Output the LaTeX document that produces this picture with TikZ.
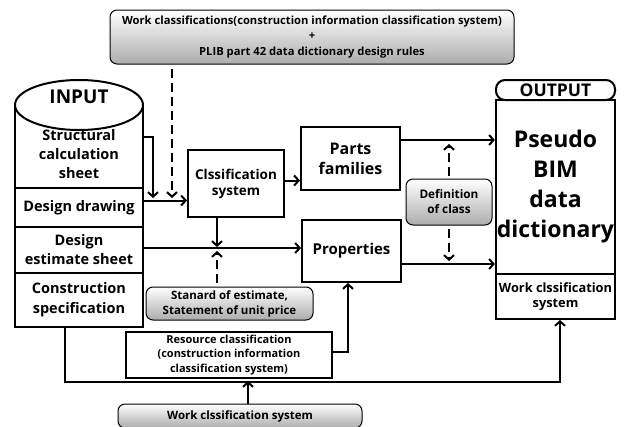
\documentclass[tikz,border=0pt]{standalone}
\usepackage{fontspec}
\setmainfont{Open Sans}
\usetikzlibrary{arrows.meta}

\newcommand{\fsz}[2]{\bfseries\fontsize{#1}{#2}\selectfont}

\tikzset{
  box/.style={draw, line width=2pt, fill=white, align=center, inner sep=1pt},
  sect/.style={box, minimum width=128pt},
  graybox/.style={draw, line width=1pt, rounded corners=7pt, top color=white,
    bottom color=gray!65, align=center, inner sep=1pt},
  arr/.style={line width=2pt, -{Straight Barb[length=4.5pt,width=10pt]}},
  dasharr/.style={arr, dash pattern=on 9pt off 5pt},
}

\begin{document}
\begin{tikzpicture}[x=1pt, y=-1pt]
        \useasboundingbox (0,0) rectangle (626,426);

        % Rules on top
        \node[graybox, minimum width=404pt, minimum height=54pt, font=\fsz{11.2}{15.5}] (rules) at (312,37)
            {Work classifications(construction information classification system)\\+\\PLIB part 42 data dictionary design rules};

        % Input cylinder
        \draw[line width=2pt] (15,105) -- (15,327) -- (143,327) -- (143,105);
        \node[sect, draw=none, fill=none, minimum height=58pt, font=\fsz{14.5}{19}] (struct) at (79,154)
            {Structural\\calculation\\sheet};
        \node[sect, minimum height=39pt, font=\fsz{14.5}{19}] (drawing) at (79,207.5) {Design drawing};
        \node[sect, minimum height=46pt, font=\fsz{14.5}{19}] (estimate) at (79,250) {Design\\estimate sheet};
        \node[sect, minimum height=54pt, font=\fsz{14.5}{20}] (spec) at (79,300) {Construction\\specification};
        \draw[line width=2pt, fill=white] (79,105) ellipse [x radius=64pt, y radius=25pt];
        \node[font=\fsz{19}{22}] (input) at (79,97) {INPUT};

        % Middle boxes
        \node[box, minimum width=96pt, minimum height=67pt, font=\fsz{13.5}{16}] (clsys) at (236,183.5)
            {Clssification\\system};
        \node[box, minimum width=99pt, minimum height=63pt, font=\fsz{16}{20}] (parts) at (350.5,158.5)
            {Parts\\families};
        \node[box, minimum width=99pt, minimum height=62pt, font=\fsz{15}{20}] (props) at (351.5,251)
            {Properties};
        \node[graybox, minimum width=86pt, minimum height=46pt, font=\fsz{11.8}{15}] (defcls) at (449,202)
            {Definition\\of class};
        \node[graybox, minimum width=167pt, minimum height=33pt, font=\fsz{11.5}{15}] (stdest) at (229.5,303.5)
            {Stanard of estimate,\\Statement of unit price};
        \node[box, line width=1.6pt, minimum width=206pt, minimum height=46pt, font=\fsz{11}{14.5}] (resource) at (229,355)
            {Resource classification\\(construction information\\classification system)};
        \node[graybox, minimum width=244pt, minimum height=24pt, font=\fsz{11.5}{14}] (workcls) at (240,416)
            {Work clssification system};

        % Output
        \node[box, minimum width=119pt, minimum height=174pt, font=\fsz{23}{30}] (outbody) at (555.5,187)
            {Pseudo\\BIM\\data\\dictionary};
        \node[box, minimum width=119pt, minimum height=45pt, font=\fsz{12.8}{15}] (outwork) at (555.5,296.5)
            {Work clssification\\system};
        \node[box, rounded corners=9pt, minimum width=119pt, minimum height=20pt, inner sep=0pt,
            text height=12pt, text depth=0pt, font=\fsz{17.5}{18}] (outhead) at (555.5,90) {OUTPUT};

        % Joints
        \coordinate (join0) at (153,198);
        \coordinate (join1) at (172,198);
        \coordinate (join2) at (217,248);
        \coordinate (join3) at (248,381);

        % Connectors
        \draw[dasharr, shorten <=4pt] (rules.south -| join1) -- (join1);
        \draw[arr] ([yshift=17pt]struct.east) -| (join0);
        \draw[arr] ([yshift=7pt]drawing.east) -- ([yshift=7pt]drawing.east -| clsys.west);
        \draw[arr] ([yshift=3pt]clsys.east) -- ([yshift=3pt]clsys.east -| parts.west);
        \draw[arr] ([yshift=18.5pt]parts.east) -- ([yshift=18.5pt]parts.east -| outbody.west);
        \draw[arr] ([yshift=2pt]estimate.east) -- ([yshift=2pt]estimate.east -| props.west);
        \draw[arr, shorten >=1pt] (clsys.south -| join2) -- (join2);
        \draw[dasharr, shorten >=3pt, shorten <=4pt] (stdest.north -| join2) -- (join2);
        \draw[arr] ([yshift=-13pt]props.east) -- ([yshift=-13pt]props.east -| outbody.west);
        \draw[dasharr, shorten <=3pt, shorten >=4pt] (defcls.north) -- (defcls.north |- 0,140);
        \draw[dasharr, shorten <=3pt, shorten >=3pt] (defcls.south) -- (defcls.south |- 0,264);
        \draw[arr] ([yshift=3pt]resource.east) -| ([xshift=-3.5pt]props.south);
        \draw[arr] ([xshift=-14pt]spec.south) -- ++(0,54) -| ([xshift=4.5pt]outwork.south);
        \draw[arr] (workcls.north -| join3) -- (join3);
    \end{tikzpicture}
\end{document}
